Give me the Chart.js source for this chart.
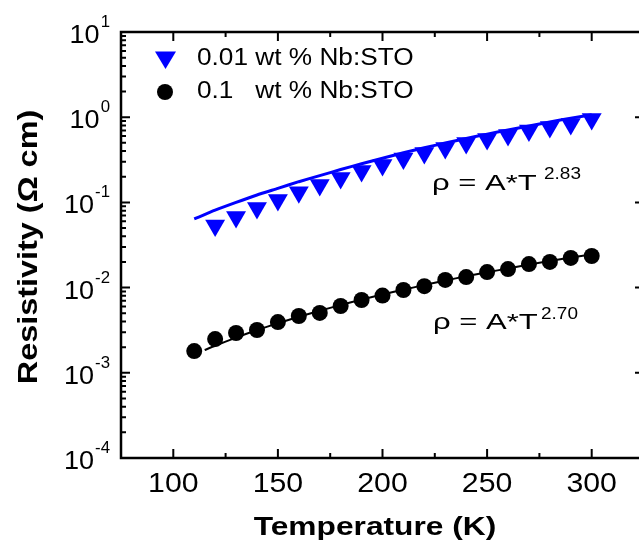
<!DOCTYPE html>
<html>
<head>
<meta charset="utf-8">
<script src="https://cdn.jsdelivr.net/npm/chart.js@4.4.0/dist/chart.umd.min.js"></script>
<style>
  html, body { margin: 0; padding: 0; background: #fff; overflow: hidden; }
  #wrap { width: 639px; height: 550px; overflow: hidden; position: relative; }
  #c { position: absolute; left: 0; top: 0; }
</style>
</head>
<body>
<div id="wrap"><canvas id="c" width="650" height="550"></canvas></div>
<script>
// 0.01 wt % Nb:STO (triangles)
var tempLow = [120, 130, 140, 150, 160, 170, 180, 190, 200, 210, 220, 230, 240, 250, 260, 270, 280, 290, 300];
var rhoLow = [0.0536, 0.0674, 0.0859, 0.107, 0.132, 0.160, 0.193, 0.234, 0.275, 0.327, 0.380, 0.435, 0.498, 0.555, 0.618, 0.698, 0.767, 0.832, 0.953];

// 0.1 wt % Nb:STO (circles)
var tempHigh = [110, 120, 130, 140, 150, 160, 170, 180, 190, 200, 210, 220, 230, 240, 250, 260, 270, 280, 290, 300];
var rhoHigh = [0.00180, 0.00249, 0.00293, 0.00318, 0.00394, 0.00464, 0.00504, 0.00608, 0.00715, 0.00807, 0.00937, 0.0104, 0.0123, 0.0133, 0.0152, 0.0165, 0.0189, 0.0200, 0.0223, 0.0235];

// fit curves
var fitLowT = [110, 120, 130, 140, 150, 160, 170, 180, 190, 200, 210, 220, 230, 240, 250, 260, 270, 280, 290, 300];
var fitLowRho = [0.064, 0.081, 0.100, 0.122, 0.146, 0.175, 0.206, 0.243, 0.284, 0.330, 0.382, 0.438, 0.498, 0.563, 0.633, 0.708, 0.790, 0.880, 0.975, 1.07];
var fitHighT = [115, 120, 130, 140, 150, 160, 170, 180, 190, 200, 210, 220, 230, 240, 250, 260, 270, 280, 290, 300];
var fitHighRho = [0.00185, 0.00208, 0.00259, 0.00317, 0.00382, 0.00454, 0.00535, 0.00624, 0.00722, 0.00829, 0.00946, 0.0107, 0.0121, 0.0136, 0.0151, 0.0168, 0.0186, 0.0205, 0.0225, 0.0246];

var xTickLabels = [100, 150, 200, 250, 300];
var yExponents = [1, 0, -1, -2, -3, -4];

function pts(xs, ys) {
    return xs.map(function (x, i) { return { x: x, y: ys[i] }; });
}

var FONT = '"Liberation Sans", Arial, Helvetica, sans-serif';

// text with horizontal stretch, like the original export
function txt(ctx, s, x, y, size, bold, align, sx) {
    ctx.save();
    ctx.translate(x, y);
    ctx.scale(sx, 1);
    ctx.font = (bold ? 'bold ' : '') + size + 'px ' + FONT;
    ctx.textAlign = align;
    ctx.textBaseline = 'alphabetic';
    ctx.fillStyle = '#000';
    ctx.fillText(s, 0, 0);
    ctx.restore();
}
function txtW(ctx, s, size, bold, sx) {
    ctx.save();
    ctx.font = (bold ? 'bold ' : '') + size + 'px ' + FONT;
    var w = ctx.measureText(s).width * sx;
    ctx.restore();
    return w;
}

var framePlugin = {
    id: 'frame',
    afterDraw: function (chart) {
        var ctx = chart.ctx;
        var a = chart.chartArea;
        var xs = chart.scales.x, ys = chart.scales.y;

        ctx.save();
        ctx.strokeStyle = '#000';
        ctx.lineWidth = 2.5;
        ctx.strokeRect(a.left, a.top, a.right - a.left, a.bottom - a.top);

        // x ticks, inward on top and bottom
        ctx.lineWidth = 2;
        for (var v = 75; v <= 325; v += 25) {
            var px = xs.getPixelForValue(v);
            var len = (v % 50 === 0) ? 9 : 5;
            ctx.beginPath();
            ctx.moveTo(px, a.bottom); ctx.lineTo(px, a.bottom - len);
            ctx.moveTo(px, a.top); ctx.lineTo(px, a.top + len);
            ctx.stroke();
        }
        // y ticks, log decades with minors
        for (var e = -4; e <= 1; e++) {
            var py = ys.getPixelForValue(Math.pow(10, e));
            ctx.beginPath();
            ctx.moveTo(a.left, py); ctx.lineTo(a.left + 9, py);
            ctx.moveTo(a.right, py); ctx.lineTo(a.right - 9, py);
            ctx.stroke();
            if (e < 1) {
                for (var k = 2; k <= 9; k++) {
                    var pm = ys.getPixelForValue(k * Math.pow(10, e));
                    ctx.beginPath();
                    ctx.moveTo(a.left, pm); ctx.lineTo(a.left + 5, pm);
                    ctx.moveTo(a.right, pm); ctx.lineTo(a.right - 5, pm);
                    ctx.stroke();
                }
            }
        }
        ctx.restore();

        // x tick labels
        xTickLabels.forEach(function (t) {
            txt(ctx, String(t), xs.getPixelForValue(t), 492, 28, false, 'center', 1.08);
        });
        // y tick labels 10^n
        yExponents.forEach(function (e) {
            var py = ys.getPixelForValue(Math.pow(10, e));
            var sup = String(e);
            var supW = txtW(ctx, sup, 16, false, 1.05);
            txt(ctx, sup, 110, py - 5, 16, false, 'right', 1.05);
            txt(ctx, '10', 110 - supW - 1, py + 11, 26, false, 'right', 1.04);
        });

        // axis titles
        txt(ctx, 'Temperature (K)', 375, 535, 26, true, 'center', 1.22);
        ctx.save();
        ctx.translate(37, 247);
        ctx.rotate(-Math.PI / 2);
        txt(ctx, 'Resistivity (\u03A9 cm)', 0, 0, 27, true, 'center', 1.2);
        ctx.restore();

        // legend
        ctx.save();
        ctx.fillStyle = '#0000ff';
        ctx.beginPath();
        ctx.moveTo(155, 51.5); ctx.lineTo(176, 51.5); ctx.lineTo(165.5, 69);
        ctx.closePath(); ctx.fill();
        ctx.fillStyle = '#000';
        ctx.beginPath();
        ctx.arc(165, 92, 8, 0, Math.PI * 2);
        ctx.fill();
        ctx.restore();
        txt(ctx, '0.01 wt % Nb:STO', 197, 65, 23, false, 'left', 1.14);
        var wtX = 197 + txtW(ctx, '0.01 ', 23, false, 1.14);
        txt(ctx, '0.1', 197, 98, 23, false, 'left', 1.14);
        txt(ctx, 'wt % Nb:STO', wtX, 98, 23, false, 'left', 1.14);

        // fit annotations
        txt(ctx, '\u03C1 = A*T', 432, 190, 22, false, 'left', 1.41);
        txt(ctx, '2.83', 544, 179, 16.5, false, 'left', 1.15);
        txt(ctx, '\u03C1 = A*T', 433, 329, 22, false, 'left', 1.41);
        txt(ctx, '2.70', 541, 319, 16.5, false, 'left', 1.15);
    }
};

new Chart(document.getElementById('c'), {
    type: 'scatter',
    data: {
        datasets: [{
            label: '0.01 wt % Nb:STO',
            data: pts(tempLow, rhoLow),
            pointStyle: 'triangle',
            rotation: 180,
            pointRadius: 11.5,
            backgroundColor: '#0000ff',
            borderWidth: 0,
            order: 2
        }, {
            label: '0.1 wt % Nb:STO',
            data: pts(tempHigh, rhoHigh),
            pointStyle: 'circle',
            pointRadius: 8,
            backgroundColor: '#000',
            borderWidth: 0,
            order: 2
        }, {
            label: 'fit low',
            data: pts(fitLowT, fitLowRho),
            showLine: true,
            pointRadius: 0,
            borderColor: '#0000ff',
            borderWidth: 3,
            tension: 0.2,
            order: 1
        }, {
            label: 'fit high',
            data: pts(fitHighT, fitHighRho),
            showLine: true,
            pointRadius: 0,
            borderColor: '#000',
            borderWidth: 2,
            tension: 0.2,
            order: 1
        }]
    },
    options: {
        responsive: false,
        animation: false,
        // canvas is a bit wider than the page so the right frame edge falls just off it
        layout: { autoPadding: false, padding: { left: 121, top: 32, right: 6, bottom: 92 } },
        plugins: {
            legend: { display: false },
            tooltip: { enabled: false }
        },
        scales: {
            x: { type: 'linear', min: 75, max: 325, display: false },
            y: { type: 'logarithmic', min: 1e-4, max: 10, display: false }
        }
    },
    plugins: [framePlugin]
});
</script>
</body>
</html>
